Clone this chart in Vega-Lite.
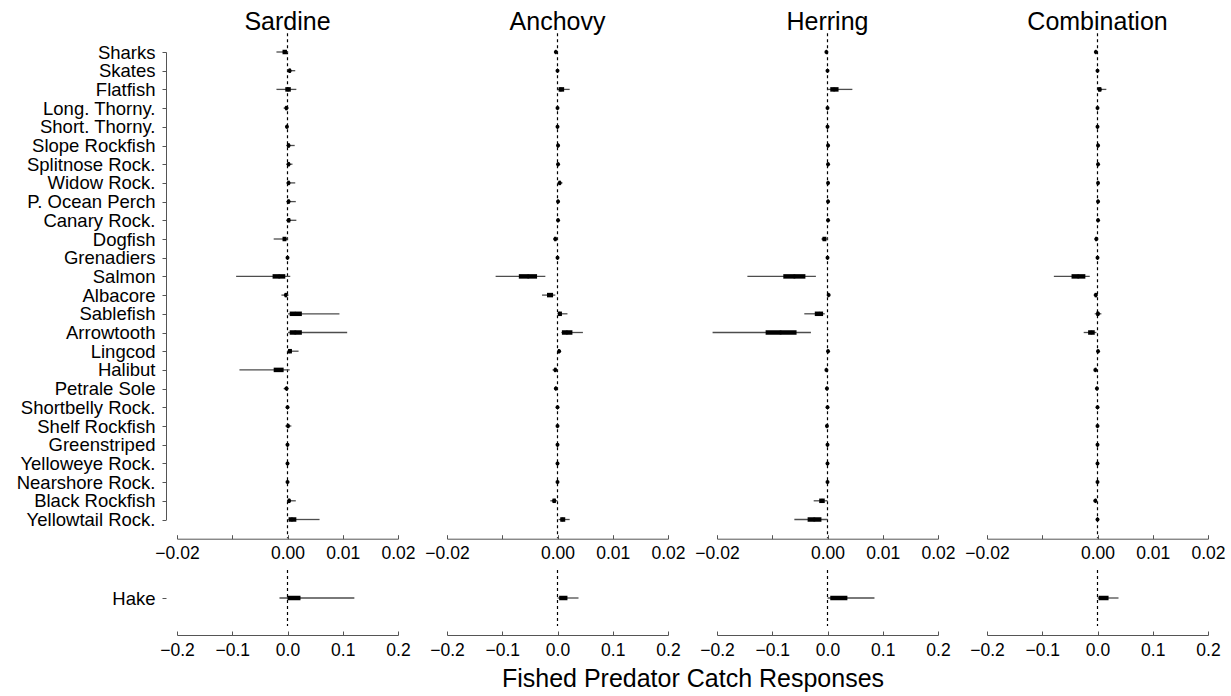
{
  "$schema": "https://vega.github.io/schema/vega-lite/v6.json",
  "background": "white",
  "padding": {"left": 5, "top": 10, "right": 5, "bottom": 5},
  "config": {
    "font": "Liberation Sans",
    "view": {"stroke": null},
    "axis": {"grid": false, "domainColor": "#555555", "tickColor": "#555555", "labelColor": "black", "tickSize": 4, "labelFont": "Liberation Sans"},
    "header": {"labelFont": "Liberation Sans", "titleFont": "Liberation Sans"}
  },
  "datasets": {
    "resp": [
      {"prey": "Sardine", "species": "Sharks", "lo95": -0.002, "lo50": -0.0009, "med": -0.0005, "hi50": -0.0001, "hi95": 0.0001},
      {"prey": "Sardine", "species": "Skates", "lo95": 0.0, "lo50": 0.0002, "med": 0.0004, "hi50": 0.0006, "hi95": 0.0014},
      {"prey": "Sardine", "species": "Flatfish", "lo95": -0.002, "lo50": -0.0004, "med": 0.0001, "hi50": 0.0006, "hi95": 0.0016},
      {"prey": "Sardine", "species": "Long. Thorny.", "lo95": -0.0007, "lo50": -0.0004, "med": -0.0002, "hi50": 0.0, "hi95": 0.0002},
      {"prey": "Sardine", "species": "Short. Thorny.", "lo95": -0.0003, "lo50": -0.0002, "med": -0.0001, "hi50": 0.0, "hi95": 0.0001},
      {"prey": "Sardine", "species": "Slope Rockfish", "lo95": -0.0002, "lo50": 0.0, "med": 0.0002, "hi50": 0.0004, "hi95": 0.0013},
      {"prey": "Sardine", "species": "Splitnose Rock.", "lo95": -0.0002, "lo50": 0.0, "med": 0.0002, "hi50": 0.0004, "hi95": 0.0009},
      {"prey": "Sardine", "species": "Widow Rock.", "lo95": -0.0002, "lo50": 0.0, "med": 0.0002, "hi50": 0.0004, "hi95": 0.0014},
      {"prey": "Sardine", "species": "P. Ocean Perch", "lo95": -0.0002, "lo50": 0.0, "med": 0.0002, "hi50": 0.0004, "hi95": 0.0015},
      {"prey": "Sardine", "species": "Canary Rock.", "lo95": -0.0002, "lo50": 0.0, "med": 0.0002, "hi50": 0.0005, "hi95": 0.0016},
      {"prey": "Sardine", "species": "Dogfish", "lo95": -0.0025, "lo50": -0.0009, "med": -0.0005, "hi50": -0.0002, "hi95": 0.0001},
      {"prey": "Sardine", "species": "Grenadiers", "lo95": -0.0002, "lo50": -0.0001, "med": 0.0, "hi50": 0.0001, "hi95": 0.0002},
      {"prey": "Sardine", "species": "Salmon", "lo95": -0.0093, "lo50": -0.0027, "med": -0.0015, "hi50": -0.0004, "hi95": 0.0005},
      {"prey": "Sardine", "species": "Albacore", "lo95": -0.0011, "lo50": -0.0005, "med": -0.0003, "hi50": -0.0001, "hi95": 0.0002},
      {"prey": "Sardine", "species": "Sablefish", "lo95": 0.0001, "lo50": 0.0004, "med": 0.0014, "hi50": 0.0026, "hi95": 0.0094},
      {"prey": "Sardine", "species": "Arrowtooth", "lo95": 0.0001, "lo50": 0.0004, "med": 0.0014, "hi50": 0.0026, "hi95": 0.0108},
      {"prey": "Sardine", "species": "Lingcod", "lo95": -0.0001, "lo50": 0.0001, "med": 0.0004, "hi50": 0.0008, "hi95": 0.002},
      {"prey": "Sardine", "species": "Halibut", "lo95": -0.0087, "lo50": -0.0025, "med": -0.0015, "hi50": -0.0007, "hi95": 0.0004},
      {"prey": "Sardine", "species": "Petrale Sole", "lo95": -0.0007, "lo50": -0.0003, "med": -0.0002, "hi50": 0.0, "hi95": 0.0002},
      {"prey": "Sardine", "species": "Shortbelly Rock.", "lo95": -0.0002, "lo50": -0.0001, "med": 0.0, "hi50": 0.0001, "hi95": 0.0002},
      {"prey": "Sardine", "species": "Shelf Rockfish", "lo95": -0.0004, "lo50": -0.0001, "med": 0.0001, "hi50": 0.0003, "hi95": 0.0007},
      {"prey": "Sardine", "species": "Greenstriped", "lo95": -0.0003, "lo50": -0.0001, "med": 0.0, "hi50": 0.0001, "hi95": 0.0002},
      {"prey": "Sardine", "species": "Yelloweye Rock.", "lo95": -0.0002, "lo50": -0.0001, "med": 0.0, "hi50": 0.0001, "hi95": 0.0002},
      {"prey": "Sardine", "species": "Nearshore Rock.", "lo95": -0.0002, "lo50": -0.0001, "med": 0.0, "hi50": 0.0001, "hi95": 0.0003},
      {"prey": "Sardine", "species": "Black Rockfish", "lo95": -0.0001, "lo50": 0.0001, "med": 0.0003, "hi50": 0.0005, "hi95": 0.0015},
      {"prey": "Sardine", "species": "Yellowtail Rock.", "lo95": 0.0001, "lo50": 0.0002, "med": 0.0008, "hi50": 0.0016, "hi95": 0.0058},
      {"prey": "Sardine", "species": "Hake", "lo95": -0.0145, "lo50": 0.0, "med": 0.01, "hi50": 0.0235, "hi95": 0.121},

      {"prey": "Anchovy", "species": "Sharks", "lo95": -0.0006, "lo50": -0.0004, "med": -0.0003, "hi50": -0.0002, "hi95": 0.0},
      {"prey": "Anchovy", "species": "Skates", "lo95": -0.0002, "lo50": -0.0001, "med": 0.0, "hi50": 0.0001, "hi95": 0.0002},
      {"prey": "Anchovy", "species": "Flatfish", "lo95": 0.0, "lo50": 0.0002, "med": 0.0006, "hi50": 0.0012, "hi95": 0.0022},
      {"prey": "Anchovy", "species": "Long. Thorny.", "lo95": -0.0002, "lo50": -0.0001, "med": 0.0, "hi50": 0.0001, "hi95": 0.0002},
      {"prey": "Anchovy", "species": "Short. Thorny.", "lo95": -0.0002, "lo50": -0.0001, "med": 0.0, "hi50": 0.0001, "hi95": 0.0002},
      {"prey": "Anchovy", "species": "Slope Rockfish", "lo95": -0.0001, "lo50": 0.0, "med": 0.0001, "hi50": 0.0002, "hi95": 0.0004},
      {"prey": "Anchovy", "species": "Splitnose Rock.", "lo95": -0.0001, "lo50": 0.0, "med": 0.0001, "hi50": 0.0002, "hi95": 0.0004},
      {"prey": "Anchovy", "species": "Widow Rock.", "lo95": 0.0, "lo50": 0.0002, "med": 0.0004, "hi50": 0.0006, "hi95": 0.0009},
      {"prey": "Anchovy", "species": "P. Ocean Perch", "lo95": -0.0001, "lo50": 0.0, "med": 0.0001, "hi50": 0.0002, "hi95": 0.0004},
      {"prey": "Anchovy", "species": "Canary Rock.", "lo95": -0.0001, "lo50": 0.0, "med": 0.0001, "hi50": 0.0002, "hi95": 0.0003},
      {"prey": "Anchovy", "species": "Dogfish", "lo95": -0.0008, "lo50": -0.0006, "med": -0.0004, "hi50": -0.0002, "hi95": 0.0},
      {"prey": "Anchovy", "species": "Grenadiers", "lo95": -0.0002, "lo50": -0.0001, "med": 0.0, "hi50": 0.0001, "hi95": 0.0002},
      {"prey": "Anchovy", "species": "Salmon", "lo95": -0.0112, "lo50": -0.007, "med": -0.0053, "hi50": -0.0037, "hi95": -0.0022},
      {"prey": "Anchovy", "species": "Albacore", "lo95": -0.0028, "lo50": -0.0019, "med": -0.0013, "hi50": -0.0008, "hi95": -0.0004},
      {"prey": "Anchovy", "species": "Sablefish", "lo95": 0.0, "lo50": 0.0001, "med": 0.0004, "hi50": 0.0008, "hi95": 0.0018},
      {"prey": "Anchovy", "species": "Arrowtooth", "lo95": 0.0007, "lo50": 0.0008, "med": 0.0017, "hi50": 0.0027, "hi95": 0.0046},
      {"prey": "Anchovy", "species": "Lingcod", "lo95": 0.0, "lo50": 0.0001, "med": 0.0003, "hi50": 0.0004, "hi95": 0.0006},
      {"prey": "Anchovy", "species": "Halibut", "lo95": -0.0009, "lo50": -0.0006, "med": -0.0004, "hi50": -0.0002, "hi95": 0.0},
      {"prey": "Anchovy", "species": "Petrale Sole", "lo95": -0.0006, "lo50": -0.0004, "med": -0.0003, "hi50": -0.0002, "hi95": 0.0},
      {"prey": "Anchovy", "species": "Shortbelly Rock.", "lo95": -0.0002, "lo50": -0.0001, "med": 0.0, "hi50": 0.0001, "hi95": 0.0002},
      {"prey": "Anchovy", "species": "Shelf Rockfish", "lo95": -0.0002, "lo50": -0.0001, "med": 0.0, "hi50": 0.0001, "hi95": 0.0002},
      {"prey": "Anchovy", "species": "Greenstriped", "lo95": -0.0002, "lo50": -0.0001, "med": 0.0, "hi50": 0.0001, "hi95": 0.0002},
      {"prey": "Anchovy", "species": "Yelloweye Rock.", "lo95": -0.0002, "lo50": -0.0001, "med": 0.0, "hi50": 0.0001, "hi95": 0.0002},
      {"prey": "Anchovy", "species": "Nearshore Rock.", "lo95": -0.0002, "lo50": -0.0001, "med": 0.0, "hi50": 0.0001, "hi95": 0.0002},
      {"prey": "Anchovy", "species": "Black Rockfish", "lo95": -0.0013, "lo50": -0.0009, "med": -0.0006, "hi50": -0.0003, "hi95": 0.0},
      {"prey": "Anchovy", "species": "Yellowtail Rock.", "lo95": 0.0002, "lo50": 0.0005, "med": 0.0009, "hi50": 0.0014, "hi95": 0.0022},
      {"prey": "Anchovy", "species": "Hake", "lo95": 0.0, "lo50": 0.003, "med": 0.01, "hi50": 0.018, "hi95": 0.038},

      {"prey": "Herring", "species": "Sharks", "lo95": -0.0004, "lo50": -0.0003, "med": -0.0002, "hi50": -0.0001, "hi95": 0.0},
      {"prey": "Herring", "species": "Skates", "lo95": -0.0002, "lo50": -0.0001, "med": 0.0, "hi50": 0.0001, "hi95": 0.0002},
      {"prey": "Herring", "species": "Flatfish", "lo95": 0.0, "lo50": 0.0005, "med": 0.0012, "hi50": 0.002, "hi95": 0.0045},
      {"prey": "Herring", "species": "Long. Thorny.", "lo95": -0.0002, "lo50": -0.0001, "med": 0.0, "hi50": 0.0001, "hi95": 0.0002},
      {"prey": "Herring", "species": "Short. Thorny.", "lo95": -0.0002, "lo50": -0.0001, "med": 0.0, "hi50": 0.0001, "hi95": 0.0002},
      {"prey": "Herring", "species": "Slope Rockfish", "lo95": -0.0001, "lo50": 0.0, "med": 0.0001, "hi50": 0.0002, "hi95": 0.0004},
      {"prey": "Herring", "species": "Splitnose Rock.", "lo95": -0.0001, "lo50": 0.0, "med": 0.0001, "hi50": 0.0002, "hi95": 0.0003},
      {"prey": "Herring", "species": "Widow Rock.", "lo95": -0.0001, "lo50": 0.0, "med": 0.0001, "hi50": 0.0002, "hi95": 0.0004},
      {"prey": "Herring", "species": "P. Ocean Perch", "lo95": -0.0001, "lo50": 0.0, "med": 0.0001, "hi50": 0.0002, "hi95": 0.0004},
      {"prey": "Herring", "species": "Canary Rock.", "lo95": -0.0001, "lo50": 0.0, "med": 0.0001, "hi50": 0.0002, "hi95": 0.0003},
      {"prey": "Herring", "species": "Dogfish", "lo95": -0.0011, "lo50": -0.0009, "med": -0.0006, "hi50": -0.0002, "hi95": 0.0001},
      {"prey": "Herring", "species": "Grenadiers", "lo95": -0.0002, "lo50": -0.0001, "med": 0.0, "hi50": 0.0001, "hi95": 0.0002},
      {"prey": "Herring", "species": "Salmon", "lo95": -0.0145, "lo50": -0.008, "med": -0.006, "hi50": -0.004, "hi95": -0.0021},
      {"prey": "Herring", "species": "Albacore", "lo95": -0.0001, "lo50": 0.0001, "med": 0.0002, "hi50": 0.0003, "hi95": 0.0005},
      {"prey": "Herring", "species": "Sablefish", "lo95": -0.0042, "lo50": -0.0023, "med": -0.0015, "hi50": -0.0008, "hi95": -0.0005},
      {"prey": "Herring", "species": "Arrowtooth", "lo95": -0.0208, "lo50": -0.0112, "med": -0.0085, "hi50": -0.0056, "hi95": -0.003},
      {"prey": "Herring", "species": "Lingcod", "lo95": -0.0001, "lo50": 0.0, "med": 0.0001, "hi50": 0.0002, "hi95": 0.0003},
      {"prey": "Herring", "species": "Halibut", "lo95": -0.0004, "lo50": -0.0003, "med": -0.0002, "hi50": -0.0001, "hi95": 0.0},
      {"prey": "Herring", "species": "Petrale Sole", "lo95": -0.0003, "lo50": -0.0002, "med": -0.0001, "hi50": 0.0, "hi95": 0.0001},
      {"prey": "Herring", "species": "Shortbelly Rock.", "lo95": -0.0002, "lo50": -0.0001, "med": 0.0, "hi50": 0.0001, "hi95": 0.0002},
      {"prey": "Herring", "species": "Shelf Rockfish", "lo95": -0.0003, "lo50": -0.0002, "med": -0.0001, "hi50": 0.0, "hi95": 0.0001},
      {"prey": "Herring", "species": "Greenstriped", "lo95": -0.0002, "lo50": -0.0001, "med": 0.0, "hi50": 0.0001, "hi95": 0.0002},
      {"prey": "Herring", "species": "Yelloweye Rock.", "lo95": -0.0002, "lo50": -0.0001, "med": 0.0, "hi50": 0.0001, "hi95": 0.0002},
      {"prey": "Herring", "species": "Nearshore Rock.", "lo95": -0.0002, "lo50": -0.0001, "med": 0.0, "hi50": 0.0001, "hi95": 0.0002},
      {"prey": "Herring", "species": "Black Rockfish", "lo95": -0.0025, "lo50": -0.0015, "med": -0.001, "hi50": -0.0005, "hi95": 0.0},
      {"prey": "Herring", "species": "Yellowtail Rock.", "lo95": -0.006, "lo50": -0.0036, "med": -0.0024, "hi50": -0.0011, "hi95": 0.0},
      {"prey": "Herring", "species": "Hake", "lo95": 0.0, "lo50": 0.005, "med": 0.018, "hi50": 0.036, "hi95": 0.085},

      {"prey": "Combination", "species": "Sharks", "lo95": -0.0005, "lo50": -0.0004, "med": -0.0003, "hi50": -0.0002, "hi95": -0.0001},
      {"prey": "Combination", "species": "Skates", "lo95": -0.0002, "lo50": -0.0001, "med": 0.0, "hi50": 0.0001, "hi95": 0.0002},
      {"prey": "Combination", "species": "Flatfish", "lo95": 0.0, "lo50": 0.0001, "med": 0.0004, "hi50": 0.0007, "hi95": 0.0016},
      {"prey": "Combination", "species": "Long. Thorny.", "lo95": -0.0002, "lo50": -0.0001, "med": 0.0, "hi50": 0.0001, "hi95": 0.0002},
      {"prey": "Combination", "species": "Short. Thorny.", "lo95": -0.0002, "lo50": -0.0001, "med": 0.0, "hi50": 0.0001, "hi95": 0.0002},
      {"prey": "Combination", "species": "Slope Rockfish", "lo95": -0.0001, "lo50": 0.0, "med": 0.0001, "hi50": 0.0002, "hi95": 0.0003},
      {"prey": "Combination", "species": "Splitnose Rock.", "lo95": -0.0001, "lo50": 0.0, "med": 0.0001, "hi50": 0.0002, "hi95": 0.0003},
      {"prey": "Combination", "species": "Widow Rock.", "lo95": -0.0001, "lo50": 0.0, "med": 0.0001, "hi50": 0.0002, "hi95": 0.0003},
      {"prey": "Combination", "species": "P. Ocean Perch", "lo95": -0.0001, "lo50": 0.0, "med": 0.0001, "hi50": 0.0002, "hi95": 0.0004},
      {"prey": "Combination", "species": "Canary Rock.", "lo95": -0.0001, "lo50": 0.0, "med": 0.0001, "hi50": 0.0002, "hi95": 0.0003},
      {"prey": "Combination", "species": "Dogfish", "lo95": -0.0006, "lo50": -0.0004, "med": -0.0002, "hi50": -0.0001, "hi95": 0.0},
      {"prey": "Combination", "species": "Grenadiers", "lo95": -0.0002, "lo50": -0.0001, "med": 0.0, "hi50": 0.0001, "hi95": 0.0002},
      {"prey": "Combination", "species": "Salmon", "lo95": -0.0079, "lo50": -0.0047, "med": -0.0035, "hi50": -0.0022, "hi95": -0.0014},
      {"prey": "Combination", "species": "Albacore", "lo95": -0.0007, "lo50": -0.0005, "med": -0.0003, "hi50": -0.0001, "hi95": 0.0},
      {"prey": "Combination", "species": "Sablefish", "lo95": -0.0005, "lo50": -0.0002, "med": 0.0001, "hi50": 0.0003, "hi95": 0.0007},
      {"prey": "Combination", "species": "Arrowtooth", "lo95": -0.0025, "lo50": -0.0017, "med": -0.0011, "hi50": -0.0005, "hi95": -0.0002},
      {"prey": "Combination", "species": "Lingcod", "lo95": -0.0001, "lo50": 0.0, "med": 0.0001, "hi50": 0.0002, "hi95": 0.0003},
      {"prey": "Combination", "species": "Halibut", "lo95": -0.0006, "lo50": -0.0005, "med": -0.0004, "hi50": -0.0002, "hi95": -0.0001},
      {"prey": "Combination", "species": "Petrale Sole", "lo95": -0.0003, "lo50": -0.0002, "med": -0.0001, "hi50": 0.0, "hi95": 0.0001},
      {"prey": "Combination", "species": "Shortbelly Rock.", "lo95": -0.0002, "lo50": -0.0001, "med": 0.0, "hi50": 0.0001, "hi95": 0.0002},
      {"prey": "Combination", "species": "Shelf Rockfish", "lo95": -0.0002, "lo50": -0.0001, "med": 0.0, "hi50": 0.0001, "hi95": 0.0002},
      {"prey": "Combination", "species": "Greenstriped", "lo95": -0.0002, "lo50": -0.0001, "med": 0.0, "hi50": 0.0001, "hi95": 0.0002},
      {"prey": "Combination", "species": "Yelloweye Rock.", "lo95": -0.0002, "lo50": -0.0001, "med": 0.0, "hi50": 0.0001, "hi95": 0.0002},
      {"prey": "Combination", "species": "Nearshore Rock.", "lo95": -0.0002, "lo50": -0.0001, "med": 0.0, "hi50": 0.0001, "hi95": 0.0002},
      {"prey": "Combination", "species": "Black Rockfish", "lo95": -0.0007, "lo50": -0.0005, "med": -0.0004, "hi50": -0.0002, "hi95": -0.0001},
      {"prey": "Combination", "species": "Yellowtail Rock.", "lo95": -0.0002, "lo50": -0.0001, "med": 0.0, "hi50": 0.0001, "hi95": 0.0002},
      {"prey": "Combination", "species": "Hake", "lo95": 0.0, "lo50": 0.002, "med": 0.01, "hi50": 0.02, "hi95": 0.038}
    ]
  },
  "spacing": 6,
  "vconcat": [
    {
      "data": {"name": "resp"},
      "transform": [{"filter": "datum.species != 'Hake'"}],
      "facet": {
        "column": {
          "field": "prey", "type": "nominal",
          "sort": ["Sardine", "Anchovy", "Herring", "Combination"],
          "title": null,
          "header": {"labelFontSize": 25, "labelColor": "black", "labelPadding": 17}
        }
      },
      "spacing": 49,
      "bounds": "flush",
      "spec": {
        "width": 221,
        "height": 467.5,
        "encoding": {
          "y": {
            "field": "species", "type": "nominal",
            "sort": ["Sharks", "Skates", "Flatfish", "Long. Thorny.", "Short. Thorny.", "Slope Rockfish", "Splitnose Rock.", "Widow Rock.", "P. Ocean Perch", "Canary Rock.", "Dogfish", "Grenadiers", "Salmon", "Albacore", "Sablefish", "Arrowtooth", "Lingcod", "Halibut", "Petrale Sole", "Shortbelly Rock.", "Shelf Rockfish", "Greenstriped", "Yelloweye Rock.", "Nearshore Rock.", "Black Rockfish", "Yellowtail Rock."],
            "scale": {"type": "point", "padding": 0},
            "axis": {"title": null, "offset": 11, "labelPadding": 7, "labelFontSize": 18.5, "minExtent": 161, "maxExtent": 161}
          }
        },
        "layer": [
          {
            "transform": [{"filter": "datum.species == 'Sharks'"}],
            "mark": {"type": "rule", "color": "black", "strokeWidth": 1.2, "strokeDash": [3, 3], "yOffset": -18.7, "y2Offset": 18.7},
            "encoding": {
              "x": {"datum": 0, "type": "quantitative"},
              "y": {"datum": "Sharks", "type": "nominal"},
              "y2": {"datum": "Yellowtail Rock."}
            }
          },
          {
            "mark": {"type": "rule", "color": "#4d4d4d", "strokeWidth": 1.3},
            "encoding": {
              "x": {
                "field": "lo95", "type": "quantitative",
                "scale": {"domain": [-0.02, 0.02], "nice": false, "zero": false},
                "axis": {"title": null, "values": [-0.02, -0.01, 0, 0.01, 0.02], "labelExpr": "datum.value == -0.01 ? '' : format(datum.value, '.2f')", "offset": 18.7, "tickSize": -4, "labelPadding": 10, "labelFontSize": 17.5, "labelFlush": false, "labelOverlap": false}
              },
              "x2": {"field": "hi95"}
            }
          },
          {
            "mark": {"type": "rule", "color": "black", "strokeWidth": 4.5, "strokeCap": "butt"},
            "encoding": {"x": {"field": "lo50", "type": "quantitative"}, "x2": {"field": "hi50"}}
          },
          {
            "mark": {"type": "point", "filled": true, "color": "black", "size": 16, "opacity": 1},
            "encoding": {"x": {"field": "med", "type": "quantitative"}}
          }
        ]
      }
    },
    {
      "data": {"name": "resp"},
      "transform": [{"filter": "datum.species == 'Hake'"}],
      "facet": {
        "column": {
          "field": "prey", "type": "nominal",
          "sort": ["Sardine", "Anchovy", "Herring", "Combination"],
          "title": "Fished Predator Catch Responses",
          "header": {"labels": false, "titleOrient": "bottom", "titleFontSize": 25, "titleFontWeight": "normal", "titleColor": "black", "titlePadding": -2}
        }
      },
      "spacing": 49,
      "bounds": "flush",
      "spec": {
        "width": 221,
        "height": 56,
        "encoding": {
          "y": {
            "field": "species", "type": "nominal",
            "scale": {"type": "point", "padding": 0},
            "axis": {"title": null, "domain": false, "offset": 11, "labelPadding": 7, "labelFontSize": 18.5, "minExtent": 161, "maxExtent": 161}
          }
        },
        "layer": [
          {
            "mark": {"type": "rule", "color": "black", "strokeWidth": 1.2, "strokeDash": [3, 3]},
            "encoding": {"x": {"datum": 0, "type": "quantitative"}, "y": null}
          },
          {
            "mark": {"type": "rule", "color": "#4d4d4d", "strokeWidth": 1.3},
            "encoding": {
              "x": {
                "field": "lo95", "type": "quantitative",
                "scale": {"domain": [-0.2, 0.2], "nice": false, "zero": false},
                "axis": {"title": null, "values": [-0.2, -0.1, 0, 0.1, 0.2], "format": ".1f", "offset": 9, "tickSize": -4, "labelPadding": 10, "labelFontSize": 17.5, "labelFlush": false, "labelOverlap": false}
              },
              "x2": {"field": "hi95"}
            }
          },
          {
            "mark": {"type": "rule", "color": "black", "strokeWidth": 4.5, "strokeCap": "butt"},
            "encoding": {"x": {"field": "lo50", "type": "quantitative"}, "x2": {"field": "hi50"}}
          },
          {
            "mark": {"type": "point", "filled": true, "color": "black", "size": 16, "opacity": 1},
            "encoding": {"x": {"field": "med", "type": "quantitative"}}
          }
        ]
      }
    }
  ]
}
